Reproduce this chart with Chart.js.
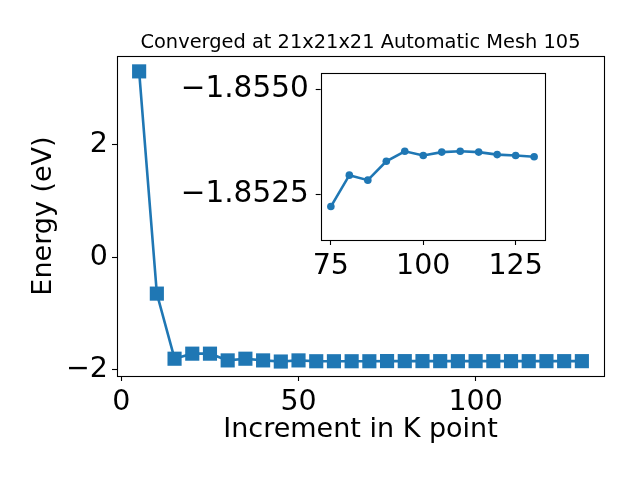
<!DOCTYPE html>
<html>
<head>
<meta charset="utf-8">
<script src="https://cdn.jsdelivr.net/npm/chart.js@4.4.1/dist/chart.umd.min.js"></script>
<style>
  html, body { margin: 0; padding: 0; background: #fff; }
  #wrap { position: relative; width: 640px; height: 480px; }
  #main { position: absolute; left: 0; top: 0; }
  #inset { position: absolute; left: 160px; top: 48px; }
</style>
</head>
<body>
<div id="wrap">
  <canvas id="main" width="640" height="480"></canvas>
  <canvas id="inset" width="400" height="242"></canvas>
</div>
<script>
/* ==============================
   Data
============================== */
const kPoints = [5, 10, 15, 20, 25, 30, 35, 40, 45, 50, 55, 60, 65, 70,
                 75, 80, 85, 90, 95, 100, 105, 110, 115, 120, 125, 130];
const energy = [3.31, -0.65, -1.81, -1.72, -1.72, -1.84, -1.81, -1.84, -1.86, -1.84, -1.855, -1.855, -1.855, -1.855,
                -1.85221, -1.85296, -1.85284, -1.85329, -1.85353, -1.85343, -1.85351, -1.85353, -1.85351, -1.85345, -1.85343, -1.8534];
const insetFrom = 14; // inset starts at 75

const mainXTicks = [0, 50, 100];
const mainYTicks = [-2, 0, 2];
const insetXTicks = [75, 100, 125];
const insetYTicks = [-1.8550, -1.8525];

const titleText = 'Converged at 21x21x21 Automatic Mesh 105';
const blue = '#1f77b4';
const FONT = 'DejaVu Sans';
const TICK_SIZE = 28.5;
const LABEL_SIZE = 27;

/* ==============================
   Helpers
============================== */
const minus = s => String(s).replace('-', '\u2212');
const fixTicks = list => scale => { scale.ticks = list.map(v => ({ value: v })); };

// box around the plot area + optional centred title
const framePlugin = {
    id: 'frame',
    beforeDatasetsDraw(chart, args, opts) {
        if (!opts.fill) return;
        const { ctx, chartArea: a } = chart;
        ctx.save();
        ctx.fillStyle = '#fff';
        ctx.fillRect(a.left, a.top, a.right - a.left, a.bottom - a.top);
        ctx.restore();
    },
    afterDatasetsDraw(chart, args, opts) {
        const { ctx, chartArea: a } = chart;
        ctx.save();
        ctx.strokeStyle = '#000';
        ctx.lineWidth = 1.1;
        ctx.strokeRect(Math.round(a.left) + 0.5, Math.round(a.top) + 0.5,
                       Math.round(a.right - a.left), Math.round(a.bottom - a.top));
        if (opts.title) {
            ctx.fillStyle = '#000';
            ctx.font = `19.4px "${FONT}"`;
            ctx.textAlign = 'center';
            ctx.textBaseline = 'alphabetic';
            ctx.fillText(opts.title, (a.left + a.right) / 2, 47.7);
        }
        ctx.restore();
    }
};

function axis(opts) {
    return {
        type: 'linear',
        min: opts.min,
        max: opts.max,
        reverse: !!opts.reverse,
        afterBuildTicks: fixTicks(opts.ticks),
        afterFit: opts.fit,
        border: { display: false },
        grid: { drawOnChartArea: false, drawTicks: true, tickLength: 5, tickColor: '#000', tickWidth: 1.1 },
        ticks: {
            color: '#000', font: { family: FONT, size: opts.size || TICK_SIZE }, padding: opts.pad, maxRotation: 0,
            autoSkip: false, callback: opts.fmt || (v => minus(v))
        },
        title: opts.title ? {
            display: true, text: opts.title, color: '#000',
            font: { family: FONT, size: LABEL_SIZE }, padding: opts.titlePad
        } : { display: false }
    };
}

/* ==============================
   Main chart
============================== */
new Chart(document.getElementById('main'), {
    type: 'line',
    data: {
        datasets: [{
            data: kPoints.map((k, i) => ({ x: k, y: energy[i] })),
            borderColor: blue,
            backgroundColor: blue,
            borderWidth: 2.6,
            pointStyle: 'rect',
            pointRadius: 10,
            pointBorderWidth: 0,
            pointHoverRadius: 10,
            tension: 0,
            clip: false
        }]
    },
    options: {
        responsive: false,
        animation: false,
        devicePixelRatio: 1,
        layout: { padding: { left: 0, right: 36, top: 56, bottom: 0 } },
        scales: {
            x: axis({ min: -1.25, max: 136.25, ticks: mainXTicks, pad: 4,
                      fit: s => { s.height = 104; },
                      title: 'Increment in K point', titlePad: { top: 0, bottom: 34 } }),
            y: axis({ min: -2.118, max: 3.584, ticks: mainYTicks, pad: 4,
                      fit: s => { s.width = 117; },
                      title: 'Energy (eV)', titlePad: { top: 28, bottom: 0 } })
        },
        plugins: {
            legend: { display: false },
            tooltip: { enabled: false },
            title: { display: false },
            frame: { fill: false, title: titleText }
        }
    },
    plugins: [framePlugin]
});

/* ==============================
   Inset chart
============================== */
const insetK = kPoints.slice(insetFrom);
const insetE = energy.slice(insetFrom);

new Chart(document.getElementById('inset'), {
    type: 'line',
    data: {
        datasets: [{
            data: insetK.map((k, i) => ({ x: k, y: insetE[i] })),
            borderColor: blue,
            backgroundColor: blue,
            borderWidth: 2.6,
            pointStyle: 'circle',
            pointRadius: 3.8,
            pointBorderWidth: 0,
            tension: 0,
            clip: false
        }]
    },
    options: {
        responsive: false,
        animation: false,
        devicePixelRatio: 1,
        layout: { padding: { left: 0, right: 15.7, top: 0, bottom: 0 } },
        scales: {
            x: axis({ min: 72.25, max: 132.75, ticks: insetXTicks, pad: 4,
                      fit: s => { s.height = 50; } }),
            y: axis({ min: -1.855405, max: -1.851412, ticks: insetYTicks, pad: 7, reverse: true, size: 29.5,
                      fit: s => { s.width = 160.7; },
                      fmt: v => minus(v.toFixed(4)) })
        },
        plugins: {
            legend: { display: false },
            tooltip: { enabled: false },
            title: { display: false },
            frame: { fill: true }
        }
    },
    plugins: [framePlugin]
});
</script>
</body>
</html>
